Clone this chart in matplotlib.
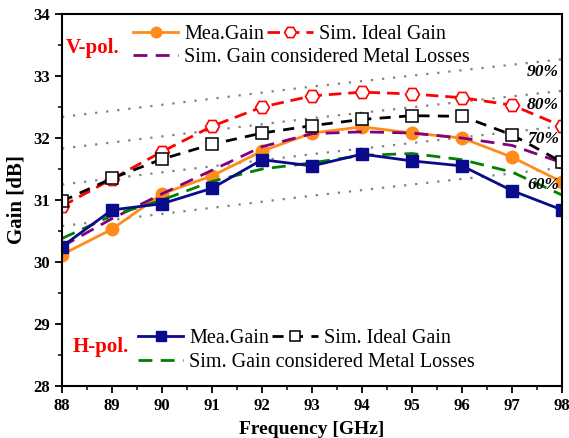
import matplotlib.pyplot as plt

freq = [88, 89, 90, 91, 92, 93, 94, 95, 96, 97, 98]

# V-pol
v_mea = [30.12, 30.53, 31.10, 31.39, 31.79, 32.08, 32.18, 32.08, 32.00, 31.69, 31.29]
v_ideal = [30.90, 31.34, 31.78, 32.19, 32.50, 32.68, 32.74, 32.71, 32.65, 32.53, 32.19]
v_loss = [30.25, 30.70, 31.10, 31.48, 31.86, 32.07, 32.10, 32.08, 32.00, 31.88, 31.60]

# H-pol
h_mea = [30.25, 30.84, 30.94, 31.19, 31.65, 31.55, 31.74, 31.63, 31.55, 31.15, 30.84]
h_ideal = [30.98, 31.35, 31.66, 31.90, 32.08, 32.20, 32.30, 32.36, 32.35, 32.05, 31.61]
h_loss = [30.38, 30.75, 31.00, 31.30, 31.50, 31.60, 31.72, 31.75, 31.65, 31.45, 31.08]

# efficiency reference lines
eff_freq = [88, 93, 98]
eff_labels = ["90%", "80%", "70%", "60%"]
eff_90 = [32.34, 32.83, 33.27]
eff_80 = [31.83, 32.32, 32.76]
eff_70 = [31.25, 31.74, 32.19]
eff_60 = [30.58, 31.07, 31.52]

plt.rcParams['font.family'] = ['Liberation Serif', 'DejaVu Serif']

fig = plt.figure(figsize=(5.69, 4.38), dpi=100)
ax = fig.add_axes([0.109, 0.1187, 0.879, 0.8493])

for vals in [eff_90, eff_80, eff_70, eff_60]:
    ax.plot(eff_freq, vals, linestyle=(0, (1, 4)), color='gray', linewidth=1.6)

label_y = [33.065, 32.53, 31.98, 31.24]
for lab, yy in zip(eff_labels, label_y):
    ax.text(97.62, yy, lab, fontsize=12.5, style='italic', fontweight='bold',
            ha='center', va='center')

orange = '#FF8C1A'
navy = '#0A0A8C'

v1, = ax.plot(freq, v_mea, color=orange, linewidth=2, marker='o', markersize=9,
              label='Mea.Gain')
v2, = ax.plot(freq, v_ideal, color='red', linewidth=2, linestyle=(0, (4.5, 2.5)),
              marker='H', markersize=10, markerfacecolor='white',
              markeredgecolor='red', markeredgewidth=1.2, label='Sim. Ideal Gain')
v3, = ax.plot(freq, v_loss, color='#800080', linewidth=2, linestyle=(0, (5, 3)),
              label='Sim. Gain considered Metal Losses')

h3, = ax.plot(freq, h_loss, color='#008000', linewidth=2, linestyle=(0, (5, 3)),
              label='Sim. Gain considered Metal Losses')
h2, = ax.plot(freq, h_ideal, color='black', linewidth=2, linestyle=(0, (4, 3)),
              marker='s', markersize=8, markerfacecolor='white',
              markeredgecolor='black', markeredgewidth=1.1, label='Sim. Ideal Gain')
h1, = ax.plot(freq, h_mea, color=navy, linewidth=2, marker='s', markersize=8,
              label='Mea.Gain')

ax.set_xlim(88, 98)
ax.set_ylim(28, 34)
ax.set_xticks(freq)
ax.set_xticks([f + 0.5 for f in freq[:-1]], minor=True)
ax.set_yticks([28, 29, 30, 31, 32, 33, 34])
ax.set_yticks([28.5, 29.5, 30.5, 31.5, 32.5, 33.5], minor=True)
ax.tick_params(which='major', direction='out', length=5, width=1.3, labelsize=12)
ax.tick_params(which='minor', direction='out', length=3, width=1.1)
for lab in ax.get_xticklabels() + ax.get_yticklabels():
    lab.set_fontweight('bold')
for sp in ax.spines.values():
    sp.set_linewidth(1.5)

ax.set_xlabel('Frequency [GHz]', fontsize=14, fontweight='bold', labelpad=5)
ax.set_ylabel('Gain [dB]', fontsize=15, fontweight='bold', labelpad=5)

leg_kw = dict(frameon=False, fontsize=14.5, handlelength=2.25, handletextpad=0.3,
              borderaxespad=0, borderpad=0.4, columnspacing=0.15,
              markerscale=0.85)
l1 = ax.legend(handles=[v1, v2], ncol=2, loc='center left',
               bbox_to_anchor=(0.126, 0.946), **leg_kw)
ax.add_artist(l1)
l2 = ax.legend(handles=[v3], loc='center left',
               bbox_to_anchor=(0.126, 0.882), **leg_kw)
ax.add_artist(l2)
l3 = ax.legend(handles=[h1, h2], ncol=2, loc='center left',
               bbox_to_anchor=(0.136, 0.129), **leg_kw)
ax.add_artist(l3)
l4 = ax.legend(handles=[h3], loc='center left',
               bbox_to_anchor=(0.136, 0.0645), **leg_kw)

ax.text(88.62, 33.45, 'V-pol.', color='red', fontsize=15, fontweight='bold',
        ha='center', va='center')
ax.text(88.78, 28.63, 'H-pol.', color='red', fontsize=15, fontweight='bold',
        ha='center', va='center')

fig.savefig('out.png', dpi=100)
